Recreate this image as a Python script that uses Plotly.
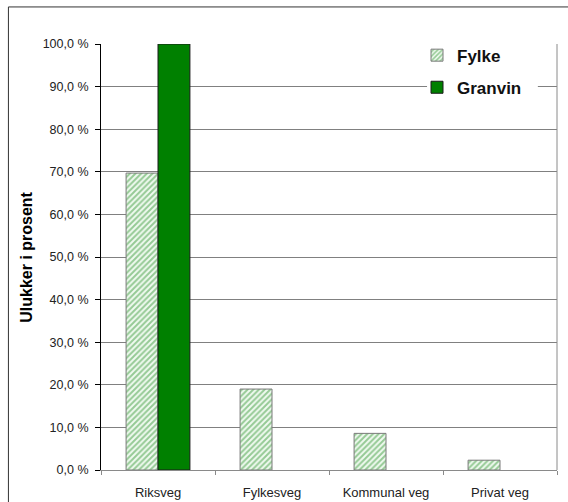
import plotly.graph_objects as go

categories = ["Riksveg", "Fylkesveg", "Kommunal veg", "Privat veg"]
fylke = [69.7, 19.0, 8.6, 2.3]
granvin = [100.0, None, None, None]
y_ticks = [0, 10, 20, 30, 40, 50, 60, 70, 80, 90, 100]
y_ticktext = [f"{v:.1f}".replace(".", ",") + " %" for v in y_ticks]

FONT = "Liberation Sans, Arial, sans-serif"

fig = go.Figure()
fig.add_trace(go.Bar(
    name="Fylke", x=categories, y=fylke, legendgroup="a",
    marker=dict(
        color="#ccf0cc",
        line=dict(color="#7a7a7a", width=1),
        pattern=dict(shape="/", fgcolor="#3a9a3a", bgcolor="#f0faf0",
                     size=4, solidity=0.5),
    ),
))
fig.add_trace(go.Bar(
    name="Granvin", x=categories, y=granvin, legendgroup="b",
    marker=dict(color="#008000", line=dict(color="#1a1a1a", width=1)),
))

fig.update_layout(
    width=568, height=502,
    margin=dict(l=101, r=11, t=44, b=32),
    paper_bgcolor="white", plot_bgcolor="white",
    barmode="group", bargap=0.44, bargroupgap=0,
    font=dict(family=FONT, size=12.5, color="#222"),
    showlegend=True,
    legend=dict(
        x=0.693, y=1.015, xanchor="left", yanchor="top",
        bgcolor="rgba(0,0,0,0)", borderwidth=0,
        font=dict(family=FONT, size=17, color="#111", weight="bold"),
        traceorder="grouped", tracegroupgap=7,
        itemwidth=30,
    ),
    xaxis=dict(
        showline=True, linecolor="#8a8a8a", linewidth=1,
        ticks="outside", ticklen=4, tickcolor="#8a8a8a",
        tickson="boundaries", showgrid=False,
        ticklabelstandoff=10, automargin=False,
        tickfont=dict(family=FONT, size=13, color="#222"),
    ),
    yaxis=dict(
        range=[0, 100], tickvals=y_ticks, ticktext=y_ticktext,
        showgrid=True, gridcolor="#808080", gridwidth=1,
        zeroline=False, automargin=False,
        showline=True, linecolor="#000", linewidth=1,
        ticks="outside", ticklen=5, tickcolor="#000",
        ticklabelstandoff=4,
        tickfont=dict(family=FONT, size=12.5, color="#222"),
    ),
    annotations=[dict(
        text="<b>Ulukker i prosent</b>", textangle=-90,
        xref="paper", yref="paper", x=-0.165, y=0.5,
        xanchor="center", yanchor="middle", showarrow=False,
        font=dict(family=FONT, size=16, color="#000"),
    )],
    shapes=[
        # right edge of the plot area
        dict(type="line", xref="paper", yref="paper", x0=1, x1=1, y0=0, y1=1,
             line=dict(color="#8a8a8a", width=1)),
        # white backing behind the legend
        dict(type="rect", xref="paper", yref="paper",
             x0=0.715, x1=0.958, y0=0.87, y1=1.01,
             fillcolor="white", line=dict(width=0), layer="above"),
        # outer chart frame
        dict(type="rect", xref="paper", yref="paper",
             x0=-0.203, x1=1.1, y0=-0.2, y1=1.087,
             line=dict(color="#333", width=1), layer="below"),
    ],
)

fig.write_html("out.html")
